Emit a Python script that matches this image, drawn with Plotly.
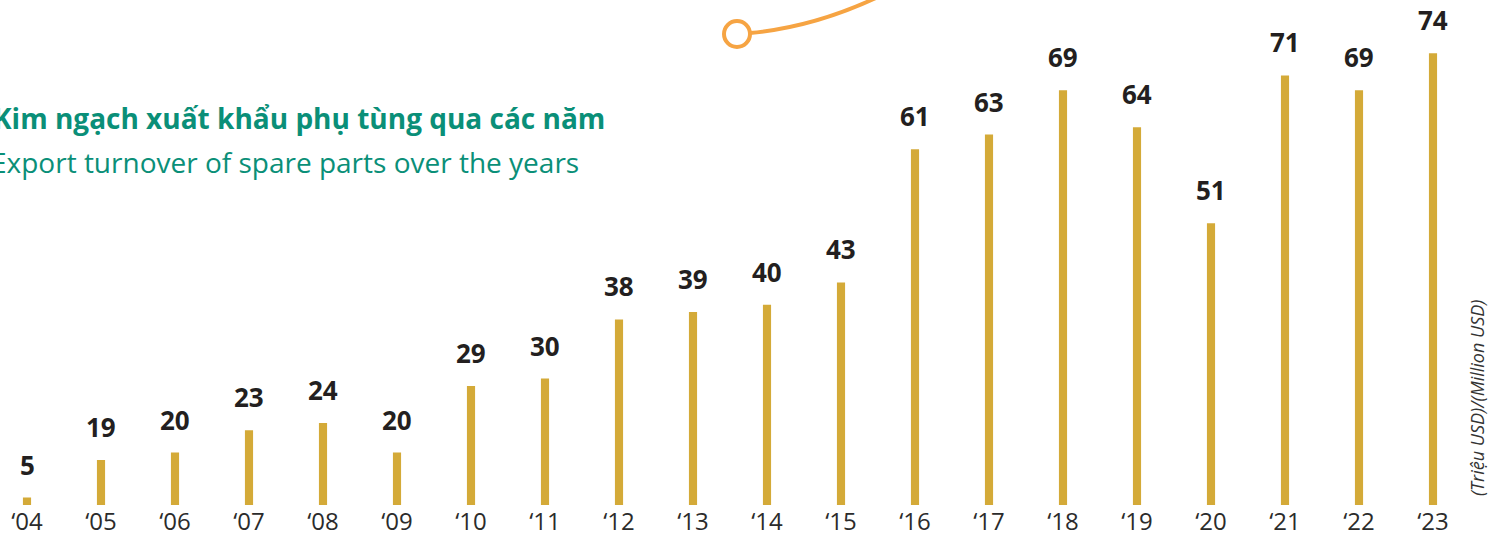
import plotly.graph_objects as go

years = ["‘04", "‘05", "‘06", "‘07", "‘08", "‘09", "‘10", "‘11", "‘12", "‘13",
         "‘14", "‘15", "‘16", "‘17", "‘18", "‘19", "‘20", "‘21", "‘22", "‘23"]
values = [5, 19, 20, 23, 24, 20, 29, 30, 38, 39, 40, 43, 61, 63, 69, 64, 51, 71, 69, 74]

title_vi = "Kim ngạch xuất khẩu phụ tùng qua các năm"
title_en = "Export turnover of spare parts over the years"
unit_label = "(Triệu USD)/(Million USD)"

BAR_COLOR = "#D4AA38"
TEAL = "#0A8F78"
ORANGE = "#F6A443"
FONT = "Open Sans"

# The original chart uses a truncated value axis; values below the floor show as a stub
y_floor = 12.9
y_top = 81.2
plotted = [max(v, y_floor + 1.0) for v in values]
xs = list(range(len(years)))

W, H = 1495, 538
ml, mr, mt, mb = 0, 45, 0, 33
pw = W - ml - mr
ph = H - mt - mb
px_per_unit = 74.0
x_left = -27.0 / px_per_unit
x_right = x_left + pw / px_per_unit

fig = go.Figure()
fig.add_trace(go.Bar(
    x=xs, y=plotted, base=0,
    marker=dict(color=BAR_COLOR, line=dict(width=0)),
    width=0.11, hoverinfo="skip",
))

for x, v, p in zip(xs, values, plotted):
    fig.add_annotation(x=x, y=p, text=f"<b>{v}</b>", showarrow=False,
                       xanchor="center", yanchor="bottom", yshift=13,
                       font=dict(family=FONT, size=26, color="#231F20"))

def px2paper(xp, yp):
    return ((xp - ml) / pw, (H - mb - yp) / ph)

# Title lines
tx, ty = px2paper(-9, 118)
fig.add_annotation(xref="paper", yref="paper", x=tx, y=ty, text=f"<b>{title_vi}</b>",
                   showarrow=False, xanchor="left", yanchor="middle",
                   font=dict(family=FONT, size=28, color=TEAL))
tx, ty = px2paper(-11, 162)
fig.add_annotation(xref="paper", yref="paper", x=tx, y=ty, text=title_en,
                   showarrow=False, xanchor="left", yanchor="middle",
                   font=dict(family=FONT, size=28, color=TEAL))

# Unit label (vertical)
ux, uy = px2paper(1477, 398)
fig.add_annotation(xref="paper", yref="paper", x=ux, y=uy, text=f"<i>{unit_label}</i>",
                   showarrow=False, textangle=-90, xanchor="center", yanchor="middle",
                   font=dict(family=FONT, size=18, color="#333333"))

# Decorative orange curve with circle
p0 = px2paper(750, 33)
pc = px2paper(815, 27)
p1 = px2paper(880, -4)
fig.add_shape(type="path", xref="paper", yref="paper",
              path=f"M {p0[0]},{p0[1]} Q {pc[0]},{pc[1]} {p1[0]},{p1[1]}",
              line=dict(color=ORANGE, width=4), layer="above")
c0 = px2paper(724, 21)
c1 = px2paper(750, 47)
fig.add_shape(type="circle", xref="paper", yref="paper",
              x0=c0[0], y0=c1[1], x1=c1[0], y1=c0[1],
              line=dict(color=ORANGE, width=4), fillcolor="white", layer="above")

fig.update_layout(
    width=W, height=H,
    margin=dict(l=ml, r=mr, t=mt, b=mb, autoexpand=False),
    paper_bgcolor="white", plot_bgcolor="white",
    showlegend=False,
    xaxis=dict(range=[x_left, x_right], tickmode="array", tickvals=xs, ticktext=years,
               showgrid=False, zeroline=False, showline=False, automargin=False,
               ticks="", ticklabelstandoff=0,
               tickfont=dict(family=FONT, size=24, color="#2B2B2B")),
    yaxis=dict(range=[y_floor, y_top], visible=False, showgrid=False, zeroline=False,
               automargin=False),
)

fig.write_html("out.html", config={"displayModeBar": False},
               post_script="document.body.style.margin='0';document.body.style.overflow='hidden';")
